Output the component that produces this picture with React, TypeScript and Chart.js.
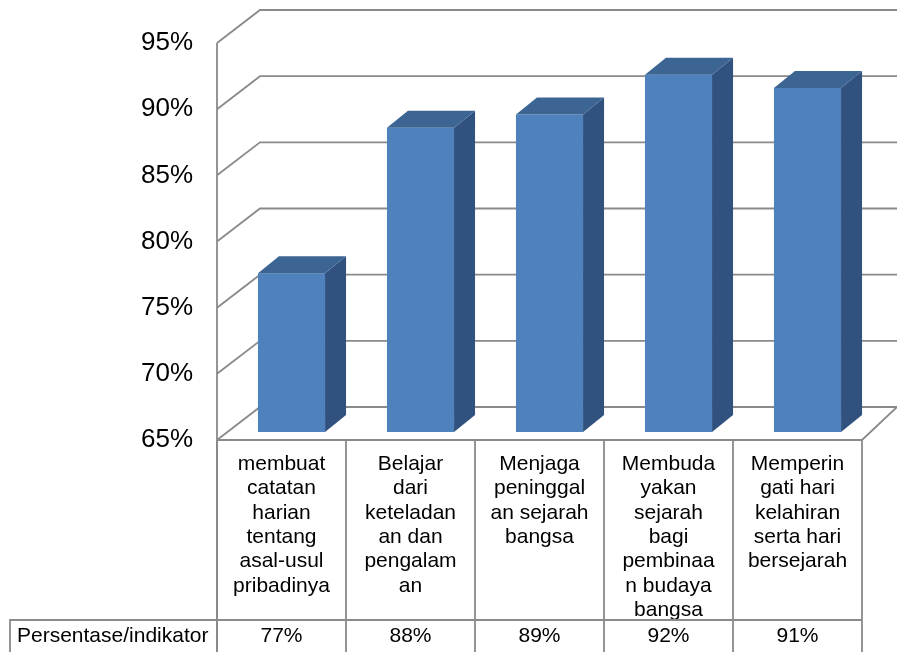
import React, { useEffect, useRef } from 'react';
import { Chart, registerables } from 'chart.js';

Chart.register(...registerables);

// ---- data ----
const categories: string[][] = [
  ['membuat', 'catatan', 'harian', 'tentang', 'asal-usul', 'pribadinya'],
  ['Belajar', 'dari', 'keteladan', 'an dan', 'pengalam', 'an'],
  ['Menjaga', 'peninggal', 'an sejarah', 'bangsa'],
  ['Membuda', 'yakan', 'sejarah', 'bagi', 'pembinaa', 'n budaya', 'bangsa'],
  ['Memperin', 'gati hari', 'kelahiran', 'serta hari', 'bersejarah'],
];
const values: number[] = [77, 88, 89, 92, 91];
const rowLabel = 'Persentase/indikator';
const yMin = 65;
const yMax = 95;
const yStep = 5;

// ---- style ----
const FONT = '"Liberation Sans", Arial, sans-serif';
const GRID = '#8a8a8a';
const FRONT = '#4f81bd';
const SIDE = '#31527f';
const TOP = '#3c6594';
const WALL_DX = 43;
const WALL_DY = -33;
const BAR_OX = 10;
const BAR_OY = -8;
const BD_X = 21;
const BD_Y = -17;
const ROW_Y = 620;
const TABLE_LEFT = 10;

const threeD = {
  id: 'threeD',
  beforeDatasetsDraw(chart: any) {
    const { ctx, chartArea: a, scales } = chart;
    const y = scales.y;
    ctx.save();
    ctx.strokeStyle = GRID;
    ctx.lineWidth = 1.8;
    for (let v = yMin; v <= yMax; v += yStep) {
      const py = y.getPixelForValue(v);
      ctx.beginPath();
      ctx.moveTo(a.left, py);
      ctx.lineTo(a.left + WALL_DX, py + WALL_DY);
      ctx.lineTo(chart.width, py + WALL_DY);
      ctx.stroke();
    }
    const py0 = y.getPixelForValue(yMin);
    ctx.beginPath();
    ctx.moveTo(a.left, py0);
    ctx.lineTo(a.right, py0);
    ctx.lineTo(chart.width, py0 + WALL_DY);
    ctx.stroke();
    ctx.beginPath();
    ctx.moveTo(a.left, y.getPixelForValue(yMax));
    ctx.lineTo(a.left, chart.height);
    ctx.stroke();
    ctx.restore();
    ctx.save();
    ctx.translate(BAR_OX, BAR_OY);
  },
  afterDatasetsDraw(chart: any) {
    const { ctx } = chart;
    ctx.restore();
    const meta = chart.getDatasetMeta(0);
    meta.data.forEach((bar: any) => {
      const p = bar.getProps(['x', 'y', 'base', 'width'], true);
      const l = p.x - p.width / 2 + BAR_OX;
      const r = p.x + p.width / 2 + BAR_OX;
      const t = p.y + BAR_OY;
      const b = p.base + BAR_OY;
      ctx.fillStyle = SIDE;
      ctx.beginPath();
      ctx.moveTo(r, t);
      ctx.lineTo(r + BD_X, t + BD_Y);
      ctx.lineTo(r + BD_X, b + BD_Y);
      ctx.lineTo(r, b);
      ctx.closePath();
      ctx.fill();
      ctx.fillStyle = TOP;
      ctx.beginPath();
      ctx.moveTo(l, t);
      ctx.lineTo(l + BD_X, t + BD_Y);
      ctx.lineTo(r + BD_X, t + BD_Y);
      ctx.lineTo(r, t);
      ctx.closePath();
      ctx.fill();
    });
  },
  afterDraw(chart: any) {
    const { ctx, chartArea: a, scales } = chart;
    const x = scales.x;
    const y = scales.y;
    const py0 = y.getPixelForValue(yMin);
    const n = categories.length;
    const cw = (a.right - a.left) / n;
    ctx.save();
    // white out text overflowing below the category row
    ctx.fillStyle = '#fff';
    ctx.fillRect(a.left + 1, ROW_Y, a.right - a.left, chart.height - ROW_Y);
    ctx.strokeStyle = GRID;
    ctx.lineWidth = 1.8;
    ctx.beginPath();
    ctx.moveTo(a.left, py0);
    ctx.lineTo(a.left, chart.height);
    ctx.stroke();
    for (let i = 0; i < n; i++) {
      const bx = x.getPixelForValue(i) + cw / 2;
      ctx.beginPath();
      ctx.moveTo(bx, py0);
      ctx.lineTo(bx, chart.height);
      ctx.stroke();
    }
    ctx.beginPath();
    ctx.moveTo(TABLE_LEFT, chart.height);
    ctx.lineTo(TABLE_LEFT, ROW_Y);
    ctx.lineTo(a.right, ROW_Y);
    ctx.stroke();
    ctx.fillStyle = '#000';
    ctx.font = `21px ${FONT}`;
    ctx.textBaseline = 'middle';
    ctx.textAlign = 'left';
    const ty = ROW_Y + 16;
    ctx.fillText(rowLabel, TABLE_LEFT + 7, ty);
    ctx.textAlign = 'center';
    values.forEach((v, i) => {
      ctx.fillText(`${v}%`, x.getPixelForValue(i), ty);
    });
    ctx.restore();
  },
};

export default function App() {
  const ref = useRef<HTMLCanvasElement | null>(null);
  useEffect(() => {
    if (!ref.current) return;
    const chart = new Chart(ref.current, {
      type: 'bar',
      data: {
        labels: categories as any,
        datasets: [
          {
            data: values,
            base: yMin,
            backgroundColor: FRONT,
            borderWidth: 0,
            barPercentage: 0.52,
            categoryPercentage: 1,
            clip: false as any,
          } as any,
        ],
      },
      options: {
        animation: false,
        responsive: false,
        devicePixelRatio: 1,
        layout: { padding: { top: 43, right: 35, left: 0, bottom: 0 } },
        plugins: { legend: { display: false }, tooltip: { enabled: false } },
        scales: {
          x: {
            grid: { display: false },
            border: { display: false },
            ticks: {
              padding: 4,
              color: '#000',
              autoSkip: false,
              maxRotation: 0,
              font: { family: FONT, size: 21, lineHeight: 1.16 },
            },
            afterFit: (s: any) => {
              s.height = 212;
            },
          },
          y: {
            min: yMin,
            max: yMax,
            grid: { display: false, drawTicks: false },
            border: { display: false },
            ticks: {
              stepSize: yStep,
              padding: 24,
              color: '#000',
              font: { family: FONT, size: 26 },
              callback: (v: any) => `${v}%`,
            },
            afterFit: (s: any) => {
              s.width = 217;
            },
          },
        },
      },
      plugins: [threeD],
    });
    return () => chart.destroy();
  }, []);
  return (
    <div style={{ position: 'absolute', left: 0, top: 0, width: 897, height: 652, background: '#fff' }}>
      <canvas ref={ref} width={897} height={652} />
    </div>
  );
}
